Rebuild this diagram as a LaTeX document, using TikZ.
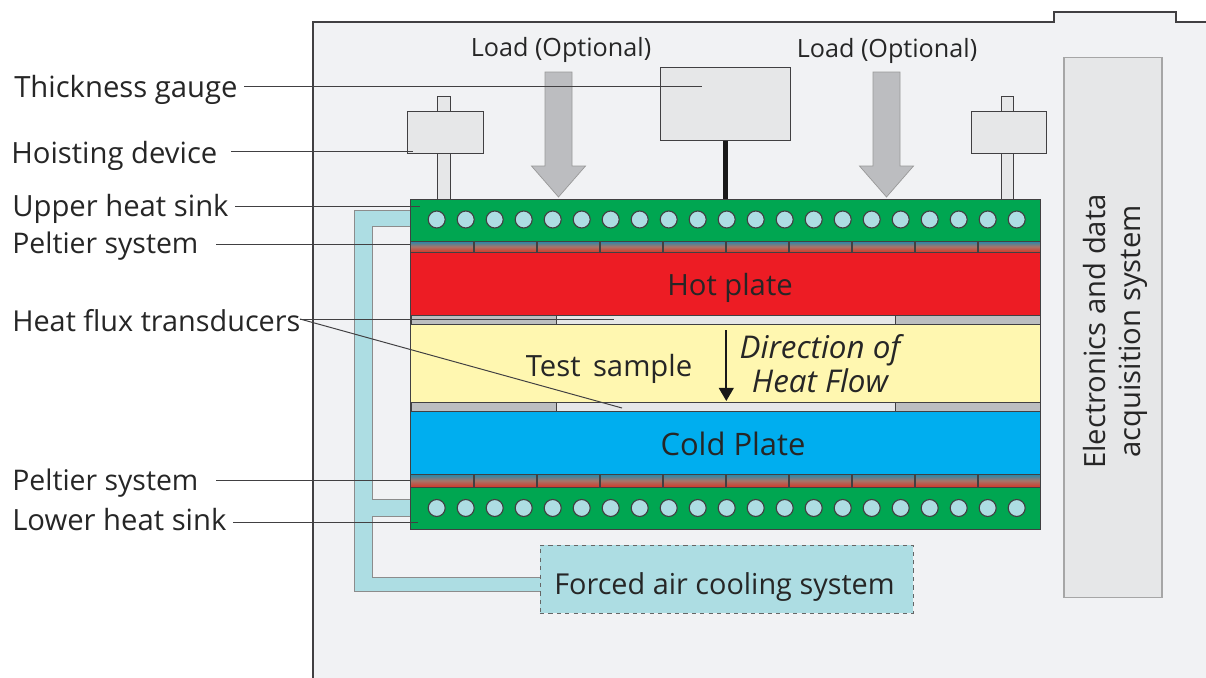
\documentclass[tikz,border=0pt]{standalone}
\usepackage{fontspec}
\setmainfont{Open Sans}
\usepackage{xcolor}
\usetikzlibrary{arrows.meta}
\usetikzlibrary{positioning}
\definecolor{panelgray}{HTML}{F1F2F4}
\definecolor{boxgray}{HTML}{E6E7E8}
\definecolor{edgedark}{HTML}{414042}
\definecolor{sinkgreen}{HTML}{00A651}
\definecolor{hotred}{HTML}{ED1C24}
\definecolor{coldblue}{HTML}{00AEEF}
\definecolor{sampleyellow}{HTML}{FFF7B0}
\definecolor{coolblue}{HTML}{ADDDE3}
\definecolor{padgray}{HTML}{BCBEC0}
\definecolor{arrowgray}{HTML}{BCBDC0}
\definecolor{peltiertop}{HTML}{1A8AB0}
\definecolor{peltiermid}{HTML}{A8756A}
\definecolor{peltierlow}{HTML}{D23A2A}
\begin{document}
\begin{tikzpicture}[
  x=0.025cm, y=-0.025cm,
  plate/.style={draw=edgedark, line width=0.7pt, minimum width=15.725cm, inner sep=0pt},
  label/.style={inner sep=0pt, font=\fontsize{20.8}{24}\selectfont, text=black!85},
  loadlabel/.style={inner sep=0pt, font=\fontsize{17.9}{20}\selectfont, text=black!85},
  leader/.style={draw=edgedark, line width=0.7pt},
  stem/.style={draw=edgedark, line width=0.7pt, fill=boxgray},
  pipeline/.style={draw=black!45, line width=0.7pt},
  loadarrow/.style={draw=black!40, line width=0.5pt, fill=arrowgray},
  peltier/.style={plate, top color=peltiertop, bottom color=peltierlow, middle color=peltiermid},
  hole/.style={circle, draw=edgedark, line width=0.8pt, fill=coolblue, minimum size=0.425cm, inner sep=0pt}
]
\useasboundingbox (0,0) rectangle (1206,678);

% housing
\fill[panelgray] (313,678) -- (313,22) -- (1054,22) -- (1054,12) -- (1176,12) -- (1176,22) -- (1206,22) -- (1206,678) -- cycle;
\draw[edgedark, line width=0.8pt] (313,678) -- (313,22) -- (1054,22) -- (1054,12) -- (1176,12) -- (1176,22) -- (1206,22);

% cooling pipes
\fill[coolblue] (411,210) -- (354,210) -- (354,591) -- (540,591) -- (540,577) -- (372,577) -- (372,516) -- (411,516) -- (411,499) -- (372,499) -- (372,226) -- (411,226) -- cycle;
\draw[pipeline] (411,210) -- (354,210) -- (354,591) -- (540,591);
\draw[pipeline] (411,226) -- (372,226) -- (372,499) -- (411,499);
\draw[pipeline] (411,516) -- (372,516) -- (372,577) -- (540,577);
\node[draw=black!60, dashed, line width=0.6pt, fill=coolblue, minimum width=9.325cm, minimum height=1.7cm, inner sep=0pt] (aircool) at (726.5,579) {};
\node[label, font=\fontsize{20.5}{24}\selectfont] (aircooltext) at (724.5,587) {Forced air cooling system};

% electronics
\node[draw=black!35, line width=0.8pt, fill=boxgray, minimum width=2.45cm, minimum height=13.475cm, inner sep=0pt] (electronics) at (1113,327.5) {};
\node[label, rotate=90, align=center] (electronicstext) at (1115,331.5) {Electronics and data\\[1pt]acquisition system};

% hoisting devices
\draw[stem] (437,96) rectangle (450,199);
\draw[stem] (1001,96) rectangle (1013,199);
\node[stem, minimum width=1.9cm, minimum height=1.05cm, inner sep=0pt] (hoistleft) at (445,132) {};
\node[stem, minimum width=1.875cm, minimum height=1.05cm, inner sep=0pt] (hoistright) at (1008.5,132) {};

% gauge
\node[stem, minimum width=3.225cm, minimum height=1.825cm, inner sep=0pt] (gauge) at (725.5,103.5) {};

% load arrows
\draw[loadarrow] (545,72) -- (572,72) -- (572,166) -- (585.5,166) -- (558.5,197) -- (531.5,166) -- (545,166) -- cycle;
\draw[loadarrow] (873,72) -- (900,72) -- (900,166) -- (913.5,166) -- (886.5,197) -- (859.5,166) -- (873,166) -- cycle;
\node[loadlabel] (loadleft) at (561,50) {Load (Optional)};
\node[loadlabel] (loadright) at (887,51) {Load (Optional)};

% stack
\node[plate, fill=sinkgreen, minimum height=1.05cm] (uppersink) at (725.5,220) {};
\node[peltier, minimum height=0.275cm] (upperpeltier) at (725.5,246.5) {};
\node[plate, fill=hotred, minimum height=1.575cm] (hotplate) at (725.5,283.5) {};
\node[plate, fill=boxgray, minimum height=0.225cm] (uppergap) at (725.5,319.5) {};
\node[plate, fill=sampleyellow, minimum height=1.95cm] (sample) at (725.5,363) {};
\node[plate, fill=boxgray, minimum height=0.225cm] (lowergap) at (725.5,406.5) {};
\node[plate, fill=coldblue, minimum height=1.575cm] (coldplate) at (725.5,442.5) {};
\node[peltier, minimum height=0.325cm] (lowerpeltier) at (725.5,480.5) {};
\node[plate, fill=sinkgreen, minimum height=1.05cm] (lowersink) at (725.5,508) {};

% pads
\foreach \padx/\pady in {411/315, 895/315, 411/402, 895/402}
  \draw[edgedark, line width=0.7pt, fill=padgray] (\padx,\pady) rectangle ++(145,9);

% peltier divisions
\foreach \divx in {474,537,...,978} {
  \draw[edgedark, line width=0.8pt] (\divx,241) -- (\divx,252);
  \draw[edgedark, line width=0.8pt] (\divx,474) -- (\divx,487);
}

% holes
\foreach \i in {0,...,20} {
  \node[hole] (upperhole\i) at (436.7+29*\i,219.5) {};
  \node[hole] (lowerhole\i) at (436.7+29*\i,508) {};
}

% gauge rod and flow arrow
\draw[black!90, line width=4.1pt] (gauge.south) -- (gauge.south |- uppersink.north);
\coordinate (flowstart) at (726.3,330);
\coordinate (flowend) at (726.3,401);
\draw[black!90, line width=1.4pt, -{Triangle[length=9.4pt,width=10.6pt]}] (flowstart) -- (flowend);

% plate texts
\node[label] (hottext) at (730,288) {Hot plate};
\node[label] (sampletext) at (609,369) {Test\, sample};
\node[label, align=center, font=\fontsize{22.3}{24}\itshape] (flowtext) at (820,364) {Direction of\\Heat Flow};
\node[label, font=\fontsize{22}{24}\selectfont] (coldtext) at (733,444) {Cold Plate};

% labels on the left
\node[label, anchor=west] (gaugelabel) at (14,90) {Thickness gauge};
\node[label, anchor=west] (hoistlabel) at (11,156) {Hoisting device};
\node[label, anchor=west] (sinklabel) at (12,209) {Upper heat sink};
\node[label, anchor=west, font=\fontsize{20.2}{24}\selectfont] (peltierlabel) at (12,246) {Peltier system};
\node[label, anchor=west, font=\fontsize{20.5}{24}\selectfont] (fluxlabel) at (12,321) {Heat flux transducers};
\node[label, anchor=west, font=\fontsize{20.2}{24}\selectfont] (lowerpeltierlabel) at (12,483) {Peltier system};
\node[label, anchor=west] (lowersinklabel) at (12,520) {Lower heat sink};

% leaders
\coordinate (gaugetip) at (702,86);
\coordinate (hoisttip) at (413,151);
\coordinate (sinktip) at (420,206);
\coordinate (peltiertip) at (411,244);
\coordinate (fluxtop) at (614,319);
\coordinate (fluxbottom) at (622,408);
\coordinate (lowerpeltiertip) at (411,480);
\coordinate (lowersinktip) at (418,522);
\coordinate (hoistfrom) at (231,151);
\coordinate (sinkfrom) at (235,206);
\coordinate (peltierfrom) at (216,244);
\coordinate (lowerpeltierfrom) at (216,480);
\coordinate (lowersinkfrom) at (233,522);
\coordinate (gaugefrom) at (244,86);
\coordinate (fluxfrom) at (300,319);
\draw[leader] (gaugefrom) -- (gaugetip);
\draw[leader] (hoistfrom) -- (hoisttip);
\draw[leader] (sinkfrom) -- (sinktip);
\draw[leader] (peltierfrom) -- (peltiertip);
\draw[leader] (fluxfrom) -- (fluxtop);
\draw[leader] (fluxfrom) -- (fluxbottom);
\draw[leader] (lowerpeltierfrom) -- (lowerpeltiertip);
\draw[leader] (lowersinkfrom) -- (lowersinktip);
\end{tikzpicture}
\end{document}
